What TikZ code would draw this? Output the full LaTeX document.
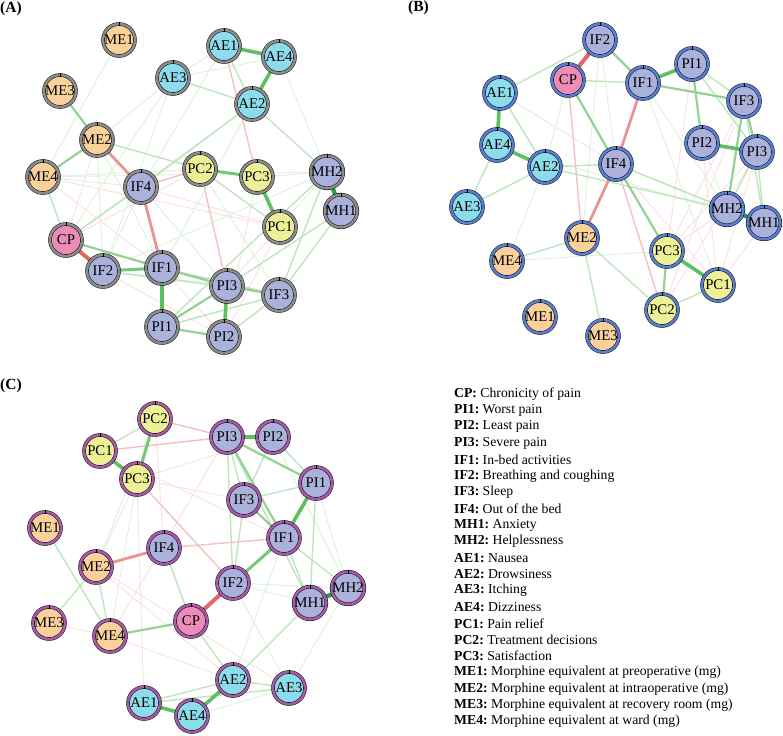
\documentclass[tikz,border=0pt]{standalone}
\usepackage{fontspec}
\setmainfont{Liberation Serif}
\pgfdeclarelayer{edges}
\pgfsetlayers{edges,main}
\definecolor{fME}{HTML}{FAD19B}
\definecolor{fAE}{HTML}{8DDCEB}
\definecolor{fPC}{HTML}{EEF097}
\definecolor{fIF}{HTML}{AAB2DC}
\definecolor{fCP}{HTML}{EE8CB9}
\definecolor{rA}{HTML}{8C8C8C}
\definecolor{rB}{HTML}{5A7ECF}
\definecolor{rC}{HTML}{A65BA8}
\definecolor{cG4}{HTML}{1E9E46}
\definecolor{cG3}{HTML}{5CC060}
\definecolor{cG25}{HTML}{74C874}
\definecolor{cG2}{HTML}{93D293}
\definecolor{cG1}{HTML}{BEE5BE}
\definecolor{cG0}{HTML}{DFF1DF}
\definecolor{cR3}{HTML}{E06A6A}
\definecolor{cR2}{HTML}{E99393}
\definecolor{cR1}{HTML}{F3C2C2}
\definecolor{cR0}{HTML}{FAE2E2}
\tikzset{
  nd/.style={circle, inner sep=0pt, minimum size=32pt, draw=black, line width=0.45pt,
    double distance=2.6pt, font=\fontsize{14.8}{15}\selectfont},
  G4/.style={draw=cG4, line width=4.2pt},
  G3/.style={draw=cG3, line width=3.6pt},
  G25/.style={draw=cG25, line width=3pt},
  G2/.style={draw=cG2, line width=2.2pt},
  G1/.style={draw=cG1, line width=1.4pt},
  G0/.style={draw=cG0, line width=1pt},
  R3/.style={draw=cR3, line width=4pt},
  R2/.style={draw=cR2, line width=2.8pt},
  R1/.style={draw=cR1, line width=1.4pt},
  R0/.style={draw=cR0, line width=1pt},
  plabel/.style={anchor=west, inner sep=0pt, font=\bfseries\fontsize{15.5}{16}\selectfont},
  legtext/.style={anchor=west, inner sep=0pt, font=\fontsize{13.7}{14}\selectfont}
}
\newcommand\mynd[5]{\node[nd, fill=#1, double=#2] (#3#4) at (#5) {#4};}
\newcommand\edgs[2]{\foreach \p/\q in {#2} {\draw[#1] (\p) -- (\q);}}
\newcommand\legline[3]{\node[legtext] (leg#1) at (454,{394+16.38*#1}) {\textbf{#2:}\ #3};}
\begin{document}
\begin{tikzpicture}[x=1pt,y=-1pt]
\path[use as bounding box] (0,0) rectangle (783,735);

% panel labels
\node[plabel] (labA) at (0,9) {(A)};
\node[plabel] (labB) at (408,8) {(B)};
\node[plabel] (labC) at (0,386) {(C)};

% ---------------- Panel A nodes
\mynd{fME}{rA}{a}{ME1}{119,40}
\mynd{fAE}{rA}{a}{AE1}{224,46}
\mynd{fAE}{rA}{a}{AE4}{279,57}
\mynd{fAE}{rA}{a}{AE3}{173,78}
\mynd{fME}{rA}{a}{ME3}{60,91}
\mynd{fAE}{rA}{a}{AE2}{252,104}
\mynd{fME}{rA}{a}{ME2}{97,140}
\mynd{fME}{rA}{a}{ME4}{43,177}
\mynd{fIF}{rA}{a}{IF4}{141,187}
\mynd{fPC}{rA}{a}{PC2}{200,169}
\mynd{fPC}{rA}{a}{PC3}{257,177}
\mynd{fIF}{rA}{a}{MH2}{327,172}
\mynd{fIF}{rA}{a}{MH1}{341,211}
\mynd{fPC}{rA}{a}{PC1}{280,227}
\mynd{fCP}{rA}{a}{CP}{66,240}
\mynd{fIF}{rA}{a}{IF2}{103,271}
\mynd{fIF}{rA}{a}{IF1}{162,268}
\mynd{fIF}{rA}{a}{PI3}{227,286}
\mynd{fIF}{rA}{a}{IF3}{279,295}
\mynd{fIF}{rA}{a}{PI1}{162,327}
\mynd{fIF}{rA}{a}{PI2}{224,337}

% ---------------- Panel B nodes
\mynd{fIF}{rB}{b}{IF2}{600,40}
\mynd{fCP}{rB}{b}{CP}{568,80}
\mynd{fIF}{rB}{b}{IF1}{643,83}
\mynd{fIF}{rB}{b}{PI1}{692,64}
\mynd{fAE}{rB}{b}{AE1}{500,93}
\mynd{fIF}{rB}{b}{IF3}{744,101}
\mynd{fAE}{rB}{b}{AE4}{497,145}
\mynd{fAE}{rB}{b}{AE2}{545,167}
\mynd{fIF}{rB}{b}{IF4}{616,164}
\mynd{fIF}{rB}{b}{PI2}{702,143}
\mynd{fIF}{rB}{b}{PI3}{757,152}
\mynd{fAE}{rB}{b}{AE3}{467,207}
\mynd{fIF}{rB}{b}{MH2}{727,209}
\mynd{fIF}{rB}{b}{MH1}{764,223}
\mynd{fME}{rB}{b}{ME2}{582,238}
\mynd{fPC}{rB}{b}{PC3}{667,251}
\mynd{fME}{rB}{b}{ME4}{507,261}
\mynd{fPC}{rB}{b}{PC1}{718,285}
\mynd{fPC}{rB}{b}{PC2}{662,310}
\mynd{fME}{rB}{b}{ME1}{540,317}
\mynd{fME}{rB}{b}{ME3}{603,336}

% ---------------- Panel C nodes
\mynd{fPC}{rC}{c}{PC2}{155,419}
\mynd{fIF}{rC}{c}{PI3}{227,437}
\mynd{fIF}{rC}{c}{PI2}{273,437}
\mynd{fPC}{rC}{c}{PC1}{100,451}
\mynd{fPC}{rC}{c}{PC3}{137,479}
\mynd{fIF}{rC}{c}{PI1}{316,483}
\mynd{fIF}{rC}{c}{IF3}{244,500}
\mynd{fME}{rC}{c}{ME1}{45,528}
\mynd{fIF}{rC}{c}{IF1}{284,538}
\mynd{fIF}{rC}{c}{IF4}{164,548}
\mynd{fME}{rC}{c}{ME2}{96,567}
\mynd{fIF}{rC}{c}{IF2}{233,583}
\mynd{fIF}{rC}{c}{MH2}{348,588}
\mynd{fIF}{rC}{c}{MH1}{310,603}
\mynd{fCP}{rC}{c}{CP}{191,621}
\mynd{fME}{rC}{c}{ME3}{49,623}
\mynd{fME}{rC}{c}{ME4}{110,636}
\mynd{fAE}{rC}{c}{AE2}{233,680}
\mynd{fAE}{rC}{c}{AE3}{289,688}
\mynd{fAE}{rC}{c}{AE1}{144,703}
\mynd{fAE}{rC}{c}{AE4}{192,716}

% ticks at the top of every node ring
\foreach \pp in {a,b,c}{
  \foreach \nn in {CP,PI1,PI2,PI3,IF1,IF2,IF3,IF4,MH1,MH2,AE1,AE2,AE3,AE4,PC1,PC2,PC3,ME1,ME2,ME3,ME4}{
    \draw[black, line width=0.5pt] (\pp\nn.center) ++(0pt,13.8pt) -- ++(0pt,4pt);
  }
}

\begin{pgfonlayer}{edges}
% ---------- Panel A edges
\edgs{G0}{aME1/aME4, aAE4/aMH2, aAE3/aAE1, aAE3/aAE4, aAE1/aIF4, aAE3/aCP, aAE3/aIF2, aME2/aIF2, aME4/aIF4, aME4/aPC2, aME4/aMH2, aAE2/aIF1, aIF4/aPI3, aIF2/aMH2, aCP/aAE2, aPC3/aMH2, aPC1/aMH2, aIF4/aIF2, aME2/aIF1, aPC2/aIF3, aIF2/aIF3}
\edgs{R0}{aME2/aAE3, aME4/aPC1, aCP/aME2, aME4/aIF1, aPC1/aPI3, aPC1/aPI2, aPC3/aPI2, aIF1/aPI2, aIF2/aPI2, aIF4/aPC1, aCP/aPC2}
\edgs{R1}{aIF4/aPC2, aPC2/aPI3, aAE1/aPC3}
\edgs{G1}{aME4/aCP, aAE3/aAE2, aAE2/aIF4, aPC2/aPC1, aAE1/aAE2, aAE2/aMH2, aME2/aPC2, aPI2/aIF3, aPI1/aIF3, aMH1/aPI3, aMH1/aIF3, aMH2/aIF3, aIF2/aPI3, aIF1/aIF3, aPI1/aMH2, aCP/aIF4}
\edgs{G2}{aIF1/aPI3, aPI3/aIF3, aPI1/aPI2, aPI1/aPI3, aCP/aIF1, aME3/aME2, aME4/aME2}
\edgs{G25}{aPC2/aPC3, aIF2/aIF1}
\edgs{G3}{aAE1/aAE4, aAE4/aAE2, aPC3/aPC1, aIF1/aPI1, aPI3/aPI2}
\edgs{G4}{aMH2/aMH1}
\edgs{R2}{aME2/aIF4, aIF4/aIF1}
\edgs{R3}{aCP/aIF2}

% ---------- Panel B edges
\edgs{G0}{bIF2/bME2, bIF1/bMH2, bME4/bPC3, bME4/bAE2, bCP/bAE2, bIF2/bIF4, bAE4/bMH1, bPI2/bMH2, bIF1/bPC1, bIF4/bMH1}
\edgs{R0}{bPC3/bIF3, bPC3/bPI3, bPC3/bMH2, bPC1/bPI2, bPC2/bIF3, bPC1/bMH1, bAE1/bIF4, bPC2/bPI3, bPC3/bPI1, bPC1/bPI3, bIF4/bPC1}
\edgs{R1}{bIF4/bPC2, bCP/bME2}
\edgs{G1}{bCP/bIF1, bPI1/bIF3, bPI1/bPI3, bIF3/bMH1, bPI3/bMH1, bPC2/bPC1, bAE2/bIF4, bAE1/bAE2, bAE1/bIF2, bAE3/bAE4, bAE3/bAE2, bAE2/bMH2, bIF4/bMH2, bME2/bME4, bME2/bPC2, bME2/bME3, bPI3/bMH2}
\edgs{G2}{bIF2/bIF1, bCP/bIF4, bIF1/bIF3, bPI1/bPI2, bIF3/bPI3, bIF3/bMH2, bPC3/bPC2, bIF4/bPC3}
\edgs{G3}{bIF1/bPI1, bAE1/bAE4, bAE4/bAE2, bPI2/bPI3, bPC3/bPC1}
\edgs{G4}{bMH2/bMH1}
\edgs{R2}{bIF1/bIF4, bIF4/bME2}
\edgs{R3}{bCP/bIF2}

% ---------- Panel C edges
\edgs{G0}{cPC3/cME2, cPC3/cME4, cPI2/cMH2, cIF2/cMH1, cIF2/cAE3, cMH2/cAE3, cAE4/cAE3, cIF1/cAE2, cPC2/cME2, cPI1/cMH2, cIF2/cMH2}
\edgs{R0}{cPC2/cIF4, cPC3/cIF3, cPC3/cPI2, cME3/cME4, cPC3/cAE1, cME4/cPI3, cME2/cAE2, cME4/cAE2, cME2/cAE3, cPC1/cIF1}
\edgs{R1}{cPC1/cPI3, cPC2/cPI3, cPC3/cIF2}
\edgs{G1}{cPI2/cPI1, cPI2/cIF3, cPI3/cIF3, cIF3/cPI1, cIF3/cIF2, cPI3/cMH1, cIF1/cMH1, cIF1/cMH2, cPI1/cMH1, cIF4/cCP, cME2/cME4, cME2/cME3, cME1/cME4, cPC2/cPC1, cCP/cAE2, cMH1/cAE2, cAE1/cAE2, cAE1/cAE3, cAE2/cAE3, cPI3/cIF2}
\edgs{G2}{cPI3/cPI1, cIF3/cIF1, cCP/cME4, cPI3/cIF1}
\edgs{G25}{cPC2/cPC3, cIF1/cIF2}
\edgs{G3}{cPC1/cPC3, cPI3/cPI2, cPI1/cIF1, cAE1/cAE4, cAE4/cAE2}
\edgs{G4}{cMH1/cMH2}
\edgs{R1}{cIF4/cIF1}
\edgs{R2}{cME2/cIF4}
\edgs{R3}{cCP/cIF2}
\end{pgfonlayer}

% ---------------- Legend
\legline{0}{CP}{Chronicity of pain}
\legline{1}{PI1}{Worst pain}
\legline{2}{PI2}{Least pain}
\legline{3}{PI3}{Severe pain}
\legline{4}{IF1}{In-bed activities}
\legline{5}{IF2}{Breathing and coughing}
\legline{6}{IF3}{Sleep}
\legline{7}{IF4}{Out of the bed}
\legline{8}{MH1}{Anxiety}
\legline{9}{MH2}{Helplessness}
\legline{10}{AE1}{Nausea}
\legline{11}{AE2}{Drowsiness}
\legline{12}{AE3}{Itching}
\legline{13}{AE4}{Dizziness}
\legline{14}{PC1}{Pain relief}
\legline{15}{PC2}{Treatment decisions}
\legline{16}{PC3}{Satisfaction}
\legline{17}{ME1}{Morphine equivalent at preoperative (mg)}
\legline{18}{ME2}{Morphine equivalent at intraoperative (mg)}
\legline{19}{ME3}{Morphine equivalent at recovery room (mg)}
\legline{20}{ME4}{Morphine equivalent at ward (mg)}
\end{tikzpicture}
\end{document}
